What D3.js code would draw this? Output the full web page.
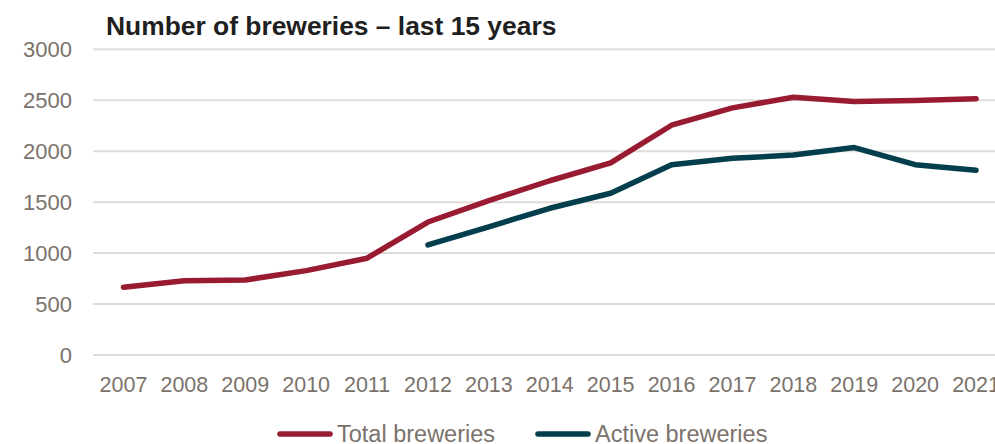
<!DOCTYPE html>
<html>
<head>
<meta charset="utf-8">
<script src="https://cdn.jsdelivr.net/npm/d3@7"></script>
<style>
body { margin: 0; background: #fff; }
svg { display: block; font-family: "Liberation Sans", Arial, sans-serif; }
.grid line { stroke: #e0dcd8; stroke-width: 2; }
.axis text { fill: #7b726b; }
</style>
</head>
<body>
<script>
var years = ["2007", "2008", "2009", "2010", "2011", "2012", "2013", "2014", "2015", "2016", "2017", "2018", "2019", "2020", "2021"];
var totalBreweries = [665, 728, 736, 828, 950, 1305, 1515, 1710, 1885, 2255, 2425, 2530, 2488, 2498, 2515];
var activeBreweries = [null, null, null, null, null, 1080, 1258, 1440, 1587, 1868, 1930, 1962, 2036, 1868, 1812];
var yTicks = [0, 500, 1000, 1500, 2000, 2500, 3000];

var width = 995, height = 444;
var left = 93, step = 60.9;

var x = d3.scaleBand()
	.domain(years)
	.range([left, left + step * years.length]);
var y = d3.scaleLinear()
	.domain([0, 3000])
	.range([355, 49.3]);

var svg = d3.select("body").append("svg")
	.attr("width", width)
	.attr("height", height);

// gridlines
svg.append("g")
	.attr("class", "grid")
	.selectAll("line")
	.data(yTicks)
	.enter().append("line")
	.attr("x1", left)
	.attr("x2", left + step * years.length)
	.attr("y1", function(d) { return y(d); })
	.attr("y2", function(d) { return y(d); });

// y labels
svg.append("g")
	.attr("class", "axis")
	.selectAll("text")
	.data(yTicks)
	.enter().append("text")
	.attr("x", 72)
	.attr("y", function(d) { return y(d) + 8; })
	.attr("text-anchor", "end")
	.style("font-size", "22px")
	.text(function(d) { return d; });

// x labels
svg.append("g")
	.attr("class", "axis")
	.selectAll("text")
	.data(years)
	.enter().append("text")
	.attr("x", function(d) { return x(d) + x.bandwidth() / 2; })
	.attr("y", 392)
	.attr("text-anchor", "middle")
	.style("font-size", "21.5px")
	.text(function(d) { return d; });

var line = d3.line()
	.defined(function(d) { return d != null; })
	.x(function(d, i) { return x(years[i]) + x.bandwidth() / 2; })
	.y(function(d) { return y(d); });

var series = [
	{name: "Total breweries", values: totalBreweries, color: "#981b32"},
	{name: "Active breweries", values: activeBreweries, color: "#023e4c"}
];

series.forEach(function(s) {
	svg.append("path")
		.datum(s.values)
		.attr("fill", "none")
		.attr("stroke", s.color)
		.attr("stroke-width", 5.5)
		.attr("stroke-linecap", "round")
		.attr("stroke-linejoin", "round")
		.attr("d", line);
});

// title
svg.append("text")
	.attr("x", 106)
	.attr("y", 35)
	.style("font-size", "26.4px")
	.style("font-weight", "bold")
	.style("fill", "#1f1f1f")
	.text("Number of breweries \u2013 last 15 years");

// legend
var legendX = [280, 538];
series.forEach(function(s, i) {
	var g = svg.append("g").attr("transform", "translate(" + legendX[i] + ",434)");
	g.append("line")
		.attr("x1", 0).attr("x2", 50)
		.attr("stroke", s.color)
		.attr("stroke-width", 5.5)
		.attr("stroke-linecap", "round");
	g.append("text")
		.attr("x", 57)
		.attr("y", 8)
		.style("font-size", "23.5px")
		.style("fill", "#7b726b")
		.text(s.name);
});
</script>
</body>
</html>
